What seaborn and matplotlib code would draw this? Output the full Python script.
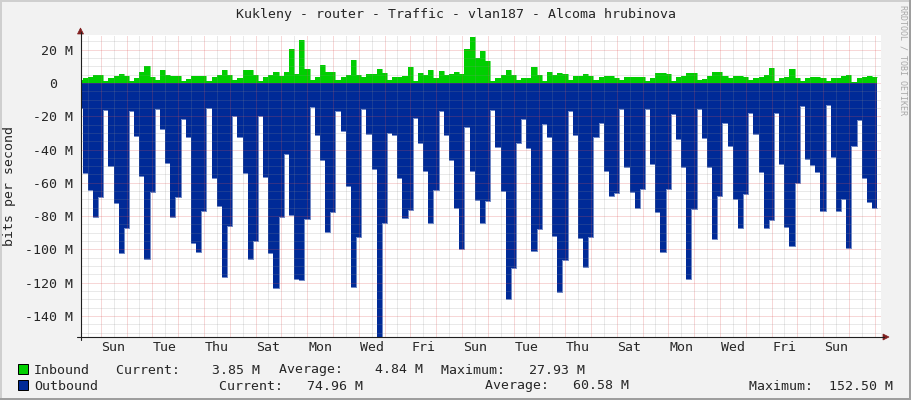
import numpy as np
import pandas as pd
import seaborn as sns
import matplotlib.pyplot as plt
import matplotlib.transforms as mtransforms
from matplotlib.patches import Rectangle, Polygon
from matplotlib.lines import Line2D

# traffic in Mbit/s, one sample every 0.2 day (4.8 h)
inbound = [
    2.0, 2.8, 3.8, 4.8, 5.1, 1.4, 2.8, 4.2, 5.4, 4.2,
    1.4, 2.8, 6.8, 10.2, 3.4, 1.8, 7.8, 4.8, 4.2, 4.2,
    1.4, 2.2, 4.2, 4.2, 4.2, 1.4, 3.8, 4.8, 7.8, 4.8,
    2.0, 3.0, 7.8, 7.8, 4.8, 1.3, 3.5, 4.8, 6.8, 4.2,
    6.8, 20.4, 5.6, 25.9, 8.3, 2.0, 3.5, 10.8, 6.8, 6.8,
    1.8, 3.4, 4.8, 13.8, 4.8, 3.6, 5.4, 5.4, 8.2, 6.2,
    1.8, 3.6, 3.6, 4.2, 9.8, 1.2, 6.2, 4.8, 7.8, 3.2,
    7.2, 4.8, 5.2, 6.6, 5.4, 20.4, 27.93, 15.0, 19.2, 13.2,
    1.0, 2.8, 4.8, 7.8, 4.8, 1.8, 2.8, 2.8, 9.8, 4.8,
    1.2, 6.6, 4.8, 5.8, 5.4, 1.8, 4.2, 4.2, 5.4, 4.2,
    1.8, 3.4, 4.2, 4.2, 2.8, 1.8, 3.4, 3.8, 3.8, 3.8,
    1.4, 3.2, 6.2, 6.2, 5.2, 1.4, 3.4, 4.4, 5.8, 5.8,
    2.0, 2.4, 4.2, 6.6, 6.6, 4.2, 2.8, 4.2, 4.2, 3.4,
    1.8, 2.8, 3.8, 4.8, 9.0, 1.2, 3.2, 3.8, 8.4, 3.2,
    1.2, 2.8, 3.4, 3.8, 3.2, 1.2, 3.2, 3.2, 4.4, 4.8,
    0.8, 3.2, 3.8, 4.2, 3.85,
]
outbound = [
    -14.8, -53.9, -64.3, -80.3, -68.4, -16.2, -49.9, -71.9, -102.4, -87.0,
    -16.9, -31.9, -55.7, -105.6, -65.3, -15.6, -27.9, -47.9, -80.3, -68.8,
    -21.7, -32.3, -96.4, -101.4, -77.0, -15.2, -56.9, -73.8, -116.4, -85.7,
    -19.8, -32.3, -54.3, -105.6, -94.7, -19.8, -56.3, -102.0, -123.0, -80.3,
    -42.7, -79.3, -117.6, -118.4, -81.8, -14.6, -31.3, -46.3, -89.4, -77.4,
    -16.9, -28.6, -61.7, -122.4, -92.4, -15.6, -30.9, -51.9, -152.5, -84.3,
    -30.3, -31.3, -56.9, -80.9, -76.3, -21.3, -35.9, -52.7, -84.0, -64.3,
    -16.9, -31.3, -46.3, -75.3, -99.7, -26.7, -52.7, -70.3, -84.0, -70.7,
    -16.2, -38.3, -64.7, -130.1, -111.0, -35.9, -21.7, -38.8, -100.8, -87.8,
    -24.6, -32.3, -91.8, -125.4, -106.4, -16.9, -31.3, -93.0, -110.4, -92.4,
    -32.3, -23.8, -52.7, -67.8, -66.3, -15.6, -50.7, -65.3, -74.9, -63.8,
    -15.6, -48.6, -77.4, -101.4, -63.8, -18.6, -33.4, -50.3, -117.6, -75.7,
    -15.6, -32.9, -50.7, -93.8, -67.8, -24.0, -37.7, -69.7, -87.0, -66.9,
    -17.9, -30.7, -53.4, -87.0, -82.4, -18.2, -48.6, -86.4, -97.8, -59.9,
    -13.6, -45.5, -49.3, -53.4, -76.8, -13.4, -44.3, -76.8, -69.9, -99.0,
    -37.9, -22.3, -56.9, -71.3, -74.96,
]
day_names = ["Sun", "Tue", "Thu", "Sat", "Mon", "Wed", "Fri", "Sun",
             "Tue", "Thu", "Sat", "Mon", "Wed", "Fri", "Sun"]
y_major = [20, 0, -20, -40, -60, -80, -100, -120, -140]
y_labels = ["20 M", "0", "-20 M", "-40 M", "-60 M", "-80 M", "-100 M", "-120 M", "-140 M"]

title = "Kukleny - router - Traffic - vlan187 - Alcoma hrubinova"
legend_rows = [
    ("Inbound", "#00CF00", [(116, "Current:    3.85 M"), (279, "Average:    4.84 M"), (441, "Maximum:   27.93 M")]),
    ("Outbound", "#002A97", [(219, "Current:   74.96 M"), (485, "Average:   60.58 M"), (749, "Maximum:  152.50 M")]),
]

step = 0.2
t_start = -0.9036
edges = t_start + step * np.arange(len(inbound) + 1)
# step series: repeat last value so the last sample keeps its width
steps = pd.DataFrame({
    "t": edges,
    "inbound": inbound + inbound[-1:],
    "outbound": outbound + outbound[-1:],
})

sns.set_style("white")
plt.rcParams["font.family"] = ["DejaVu Sans Mono"]
plt.rcParams["font.size"] = 9.5

W, H = 911, 400
fx = lambda px: px / W
fy = lambda py: 1 - py / H

axis_col = (0.12, 0.12, 0.12)
arrow_col = (0.5, 0.12, 0.12)
grid_col = (0.56, 0.56, 0.56, 0.38)
mgrid_col = (0.87, 0.31, 0.31, 0.45)

fig = plt.figure(figsize=(W / 100, H / 100), dpi=100, facecolor="#F2F2F2")
ax = fig.add_axes([fx(81), fy(337), 800 / W, 302 / H])
ax.set_facecolor("white")

for col, colour in [("inbound", "#00CF00"), ("outbound", "#002A97")]:
    ax.fill_between(steps["t"], 0, steps[col], step="post", color=colour, linewidth=0, zorder=1)
    sns.lineplot(data=steps, x="t", y=col, drawstyle="steps-post", estimator=None,
                 color=colour, linewidth=0.4, ax=ax, zorder=1)

xmin, xmax = -0.7636, 30.244
ymin, ymax = -152.7, 28.86
ax.set_xlim(xmin, xmax)
ax.set_ylim(ymin, ymax)
ax.set_xlabel("")
ax.set_ylabel("")
for s in ax.spines.values():
    s.set_visible(False)

# dotted grid drawn over the data, rrdtool style
dots = (0, (1, 1))
minor_y = [v for v in np.arange(25, -151, -5) if v % 20 != 0]
grid_kw = dict(linestyles=dots, linewidth=0.72, zorder=3, snap=True)
ax.vlines(np.arange(-0.5, 30.0, 1.0), ymin, ymax, colors=[grid_col], **grid_kw)
ax.vlines(np.arange(0, 31, 1.0), ymin, ymax, colors=[mgrid_col], **grid_kw)
ax.hlines(minor_y, xmin, xmax, colors=[grid_col], **grid_kw)
ax.hlines(y_major, xmin, xmax, colors=[mgrid_col], **grid_kw)

ax.set_xticks(np.arange(0.5, 29.0, 2.0), day_names)
ax.set_xticks(np.arange(-0.5, 30.1, 0.5), minor=True)
ax.xaxis.remove_overlapping_locs = False
ax.tick_params(axis="x", which="major", length=0, pad=3, labelsize=9.5)
ax.tick_params(axis="x", which="minor", length=2, width=0.72, color=axis_col, direction="out")
ax.set_yticks(y_major, y_labels)
ax.set_yticks(np.arange(-150, 26, 5), minor=True)
ax.tick_params(axis="y", which="both", length=2, width=0.72, color=axis_col, direction="out")
ax.tick_params(axis="y", which="major", pad=3.6, labelsize=9.5)
for lab in ax.get_yticklabels():
    if lab.get_text() == "0":
        lab.set_transform(lab.get_transform() + mtransforms.ScaledTranslation(-0.16, 0, fig.dpi_scale_trans))

# axes with arrows
fig.add_artist(Line2D([fx(80.5), fx(80.5)], [fy(340), fy(32)], color=axis_col, lw=0.8))
fig.add_artist(Line2D([fx(77), fx(884)], [fy(337), fy(337)], color=axis_col, lw=0.8))
fig.add_artist(Polygon([(fx(77.5), fy(34)), (fx(83.5), fy(34)), (fx(80.5), fy(28))], closed=True,
                       facecolor=arrow_col, edgecolor=arrow_col, lw=0.5))
fig.add_artist(Polygon([(fx(883), fy(334)), (fx(883), fy(340)), (fx(889), fy(337))], closed=True,
                       facecolor=arrow_col, edgecolor=arrow_col, lw=0.5))

# texts
fig.text(0.5, fy(18), title, ha="center", va="baseline", fontsize=9.5)
fig.text(fx(10), fy(186), "bits per second", rotation=90, ha="center", va="center", fontsize=9.5)
fig.text(fx(903), fy(5), "RRDTOOL / TOBI OETIKER", rotation=270, ha="center", va="top",
         fontsize=6, color="#A8A8A8")

for row, (name, colour, chunks) in enumerate(legend_rows):
    base = 373.5 + 16 * row
    fig.add_artist(Rectangle((fx(17.5), fy(base)), 10 / W, 10 / H, facecolor=colour,
                             edgecolor="black", lw=0.72))
    fig.text(fx(34), fy(base), name, ha="left", va="baseline", fontsize=9.5)
    for x_px, txt in chunks:
        fig.text(fx(x_px), fy(base), txt, ha="left", va="baseline", fontsize=9.5)

# image frame
fig.add_artist(Rectangle((0, fy(2)), 1, 2 / H, facecolor="#CFCFCF", edgecolor="none"))
fig.add_artist(Rectangle((0, 0), 2 / W, 1, facecolor="#CFCFCF", edgecolor="none"))
fig.add_artist(Rectangle((0, 0), 1, 2 / H, facecolor="#9E9E9E", edgecolor="none"))
fig.add_artist(Rectangle((fx(909), 0), 2 / W, 1, facecolor="#9E9E9E", edgecolor="none"))

plt.savefig("out.png", dpi=100, facecolor=fig.get_facecolor())
plt.close()
